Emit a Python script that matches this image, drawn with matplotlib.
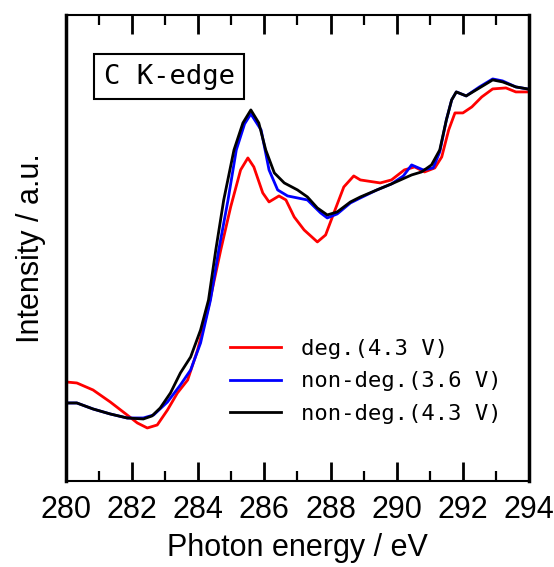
import matplotlib.pyplot as plt

# C K-edge XAS spectra (intensity in arbitrary units)
energy_deg = [280.0, 280.33, 280.82, 281.34, 281.85, 282.16, 282.46, 282.76, 283.07, 283.37,
              283.68, 283.98, 284.31, 284.68, 284.98, 285.28, 285.5, 285.68, 285.95, 286.14,
              286.44, 286.65, 286.9, 287.2, 287.6, 287.85, 288.1, 288.4, 288.7, 288.9,
              289.5, 289.84, 290.23, 290.54, 290.84, 291.15, 291.36, 291.57, 291.76, 292.0,
              292.27, 292.57, 292.9, 293.3, 293.6, 293.95]
deg_43 = [0.99, 0.98, 0.91, 0.79, 0.66, 0.58, 0.53, 0.56, 0.71, 0.88,
          1.01, 1.31, 1.74, 2.31, 2.74, 3.11, 3.23, 3.14, 2.88, 2.79,
          2.85, 2.81, 2.64, 2.51, 2.39, 2.46, 2.68, 2.94, 3.05, 3.01,
          2.98, 3.01, 3.11, 3.14, 3.09, 3.13, 3.24, 3.51, 3.68, 3.68,
          3.74, 3.84, 3.92, 3.93, 3.89, 3.89]

energy_nd36 = [280.0, 280.33, 280.82, 281.34, 281.85, 282.34, 282.65, 283.07, 283.46, 283.77,
               284.07, 284.37, 284.62, 284.9, 285.15, 285.4, 285.59, 285.9, 286.14, 286.4,
               286.7, 287.3, 287.7, 287.9, 288.2, 288.6, 288.9, 289.4, 289.84, 290.2,
               290.45, 290.8, 291.1, 291.3, 291.5, 291.66, 291.8, 292.1, 292.5, 292.9,
               293.2, 293.6, 293.95]
nondeg_36 = [0.78, 0.78, 0.72, 0.67, 0.63, 0.63, 0.66, 0.79, 0.96, 1.11,
             1.38, 1.81, 2.31, 2.81, 3.31, 3.57, 3.67, 3.51, 3.11, 2.91,
             2.85, 2.81, 2.68, 2.63, 2.67, 2.78, 2.83, 2.91, 2.97, 3.05,
             3.16, 3.11, 3.13, 3.29, 3.61, 3.81, 3.89, 3.85, 3.94, 4.02,
             4.00, 3.94, 3.92]

energy_nd43 = [280.0, 280.33, 280.82, 281.34, 281.85, 282.34, 282.6, 282.85, 283.16, 283.46,
               283.77, 284.07, 284.31, 284.53, 284.77, 285.08, 285.35, 285.59, 285.83, 286.04,
               286.3, 286.6, 287.0, 287.3, 287.6, 287.9, 288.2, 288.6, 288.9, 289.4,
               289.84, 290.45, 290.75, 291.05, 291.3, 291.5, 291.66, 291.8, 292.1, 292.5,
               292.9, 293.2, 293.6, 293.95]
nondeg_43 = [0.78, 0.78, 0.72, 0.67, 0.63, 0.62, 0.65, 0.73, 0.88, 1.08,
             1.24, 1.51, 1.81, 2.31, 2.81, 3.31, 3.58, 3.71, 3.58, 3.31,
             3.08, 2.98, 2.91, 2.84, 2.73, 2.66, 2.69, 2.79, 2.84, 2.91,
             2.97, 3.06, 3.09, 3.16, 3.31, 3.61, 3.81, 3.89, 3.85, 3.93,
             4.01, 3.99, 3.94, 3.92]

major_ticks = [280, 282, 284, 286, 288, 290, 292, 294]
minor_ticks = [281, 283, 285, 287, 289, 291, 293]

plt.rcParams["font.family"] = ["Liberation Sans", "DejaVu Sans"]

fig = plt.figure(figsize=(5.54, 5.67), dpi=100)
ax = fig.add_axes([0.119, 0.1517, 0.836, 0.822])

ax.plot(energy_deg, deg_43, color="red", lw=2, label="deg.(4.3 V)")
ax.plot(energy_nd36, nondeg_36, color="blue", lw=2, label="non-deg.(3.6 V)")
ax.plot(energy_nd43, nondeg_43, color="black", lw=2, label="non-deg.(4.3 V)")

ax.set_xlim(280, 294)
ax.set_ylim(0, 4.66)
ax.set_xticks(major_ticks)
ax.set_xticks(minor_ticks, minor=True)
ax.set_yticks([])
ax.tick_params(axis="x", which="major", direction="in", length=14, width=2,
               color="black", top=True, labelsize=22, pad=10)
ax.tick_params(axis="x", which="minor", direction="in", length=7, width=1.6,
               color="black", top=True)
for s in ax.spines.values():
    s.set_linewidth(1.5)
ax.spines["left"].set_linewidth(2.5)
ax.spines["right"].set_linewidth(2.5)

ax.set_xlabel("Photon energy / eV", fontsize=22, labelpad=6)
ax.set_ylabel("Intensity / a.u.", fontsize=22, labelpad=14)

mono = ["DejaVu Sans Mono", "DejaVu Sans"]
ax.text(0.082, 0.867, "C K-edge", transform=ax.transAxes, fontsize=19.5, family=mono,
        va="center", ha="left",
        bbox=dict(boxstyle="square,pad=0.35", fc="white", ec="black", lw=1.5))

leg = ax.legend(loc="lower right", bbox_to_anchor=(0.985, 0.08), frameon=False,
                prop={"family": mono, "size": 16}, handlelength=2.3,
                handletextpad=0.9, labelspacing=0.55)

fig.savefig("out.png", dpi=100)
